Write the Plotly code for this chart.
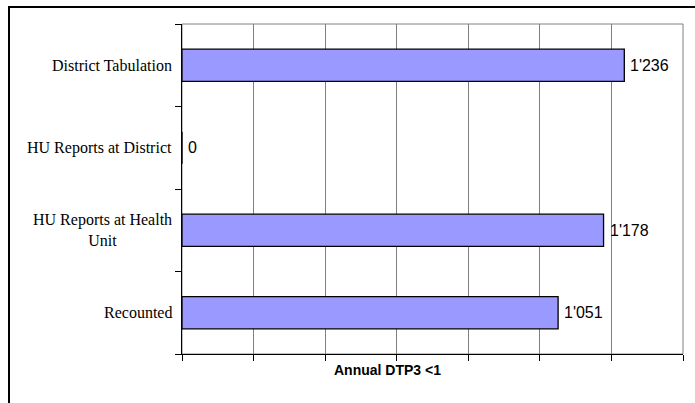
import plotly.graph_objects as go

categories = ["Recounted", "HU Reports at Health<br>Unit", "HU Reports at District", "District Tabulation"]
values = [1051, 1178, 0, 1236]
x_title = "Annual DTP3 <1"

def fmt(v):
    return f"{v:,}".replace(",", "'")

L, R, T, B = 182, 12, 24, 49
W, H = 695, 403
pw, ph = W - L - R, H - T - B

fig = go.Figure()
fig.add_trace(go.Bar(
    y=categories, x=values, orientation="h",
    marker=dict(color="#9999FF", line=dict(color="black", width=1.3)),
    hoverinfo="skip", showlegend=False,
))

annotations = []
for c, v in zip(categories, values):
    annotations.append(dict(x=v, y=c, xref="x", yref="y", text=fmt(v), showarrow=False,
                            xanchor="left", xshift=4,
                            font=dict(family="Liberation Sans, Arial", size=16, color="black")))
    annotations.append(dict(x=0, y=c, xref="paper", yref="y", text=c, showarrow=False,
                            xanchor="right", xshift=-8, align="center",
                            font=dict(family="Liberation Serif, Times New Roman", size=16, color="black")))
annotations.append(dict(x=(387 - L) / pw, y=(354 - 370) / ph, xref="paper", yref="paper",
                        text="<b>" + x_title.replace("<", "&lt;") + "</b>", showarrow=False,
                        xanchor="center", yanchor="middle",
                        font=dict(family="Liberation Sans, Arial", size=14, color="black")))

shapes = [
    dict(type="rect", xref="paper", yref="paper", x0=0, x1=1, y0=0, y1=1,
         line=dict(color="#808080", width=1), layer="below"),
    dict(type="rect", xref="paper", yref="paper",
         x0=(9 - L) / pw, x1=(W + 30 - L) / pw, y0=(354 - 420) / ph, y1=(354 - 7) / ph,
         line=dict(color="black", width=2), layer="above"),
]

fig.update_layout(
    width=W, height=H,
    margin=dict(l=L, r=R, t=T, b=B),
    paper_bgcolor="white", plot_bgcolor="white",
    bargap=0.61,
    xaxis=dict(range=[0, 1400], dtick=200, tick0=0, showticklabels=False,
               ticks="outside", ticklen=6, tickcolor="black",
               showgrid=True, gridcolor="#808080", gridwidth=1,
               showline=True, linecolor="black", linewidth=1, zeroline=False,
               fixedrange=True),
    yaxis=dict(type="category", categoryorder="array", categoryarray=categories,
               tickson="boundaries", ticks="outside", ticklen=6, tickcolor="black",
               showticklabels=False, showgrid=False, zeroline=False,
               showline=True, linecolor="black", linewidth=1, fixedrange=True),
    annotations=annotations,
    shapes=shapes,
)

fig.write_html("out.html")
